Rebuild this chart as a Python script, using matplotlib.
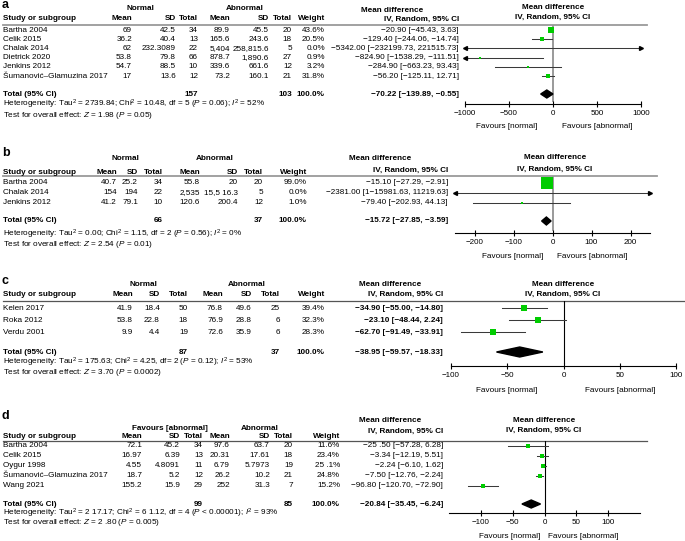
import matplotlib.pyplot as plt
from matplotlib.patches import Polygon
import numpy as np

plt.rcParams['font.family'] = ['Liberation Sans', 'DejaVu Sans']
plt.rcParams['mathtext.fontset'] = 'custom'
plt.rcParams['mathtext.rm'] = 'Liberation Sans'
plt.rcParams['mathtext.it'] = 'Liberation Sans:italic'
plt.rcParams['mathtext.bf'] = 'Liberation Sans:bold'

W, H = 685, 541
FS = 5.9
TFS = 5.8
GREEN = '#00cc00'

# ---------------- panel a ----------------
a_studies = ['Bartha 2004', 'Celik 2015', 'Chalak 2014', 'Dietrick 2020', 'Jenkins 2012', 'Šumanović–Glamuzina 2017']
a_norm_mean = ['69', '36.2', '62', '53.8', '54.7', '17']
a_norm_sd = ['42.5', '40.4', '232.3089', '79.8', '88.5', '13.6']
a_norm_n = ['34', '13', '22', '66', '10', '12']
a_abn_mean = ['89.9', '165.6', '5,404', '878.7', '339.6', '73.2']
a_abn_sd = ['45.5', '243.6', '258,815.6', '1,890.6', '661.6', '160.1']
a_abn_n = ['20', '18', '5', '27', '12', '21']
a_weight = ['43.6%', '20.5%', '0.0%', '0.9%', '3.2%', '31.8%']
a_md = [-20.90, -129.40, -5342.00, -824.90, -284.90, -56.20]
a_lo = [-45.43, -244.06, -232199.73, -1538.29, -663.23, -125.11]
a_hi = [3.63, -14.74, 221515.73, -111.51, 93.43, 12.71]
a_ci = ['−20.90 [−45.43, 3.63]', '−129.40 [−244.06, −14.74]', '−5342.00 [−232199.73, 221515.73]',
        '−824.90 [−1538.29, −111.51]', '−284.90 [−663.23, 93.43]', '−56.20 [−125.11, 12.71]']
a_tot_n = ['157', '103']
a_tot = [-70.22, -139.89, -0.55]
a_tot_ci = '−70.22 [−139.89, −0.55]'
a_het = r'Heterogeneity: Tau$^2$ = 2739.84; Chi$^2$ = 10.48, df = 5 ($P$ = 0.06); $I^2$ = 52%'
a_test = r'Test for overall effect: $Z$ = 1.98 ($P$ = 0.05)'
a_groups = ['Normal', 'Abnormal']
a_ticks = [-1000, -500, 0, 500, 1000]

# ---------------- panel b ----------------
b_studies = ['Bartha 2004', 'Chalak 2014', 'Jenkins 2012']
b_norm_mean = ['40.7', '154', '41.2']
b_norm_sd = ['25.2', '194', '79.1']
b_norm_n = ['34', '22', '10']
b_abn_mean = ['55.8', '2,535', '120.6']
b_abn_sd = ['20', '15,5 16.3', '200.4']
b_abn_n = ['20', '5', '12']
b_weight = ['99.0%', '0.0%', '1.0%']
b_md = [-15.10, -2381.00, -79.40]
b_lo = [-27.29, -15981.63, -202.93]
b_hi = [-2.91, 11219.63, 44.13]
b_ci = ['−15.10 [−27.29, −2.91]', '−2381.00 [1−15981.63, 11219.63]', '−79.40 [−202.93, 44.13]']
b_tot_n = ['66', '37']
b_tot = [-15.72, -27.85, -3.59]
b_tot_ci = '−15.72 [−27.85, −3.59]'
b_het = r'Heterogeneity: Tau$^2$ = 0.00; Chi$^2$ = 1.15, df = 2 ($P$ = 0.56); $I^2$ = 0%'
b_test = r'Test for overall effect: $Z$ = 2.54 ($P$ = 0.01)'
b_groups = ['Normal', 'Abnormal']
b_ticks = [-200, -100, 0, 100, 200]

# ---------------- panel c ----------------
c_studies = ['Kelen 2017', 'Roka 2012', 'Verdu 2001']
c_norm_mean = ['41.9', '53.8', '9.9']
c_norm_sd = ['18.4', '22.8', '4.4']
c_norm_n = ['50', '18', '19']
c_abn_mean = ['76.8', '76.9', '72.6']
c_abn_sd = ['49.6', '28.8', '35.9']
c_abn_n = ['25', '6', '6']
c_weight = ['39.4%', '32.3%', '28.3%']
c_md = [-34.90, -23.10, -62.70]
c_lo = [-55.00, -48.44, -91.49]
c_hi = [-14.80, 2.24, -33.91]
c_ci = ['−34.90 [−55.00, −14.80]', '−23.10 [−48.44, 2.24]', '−62.70 [−91.49, −33.91]']
c_tot_n = ['87', '37']
c_tot = [-38.95, -59.57, -18.33]
c_tot_ci = '−38.95 [−59.57, −18.33]'
c_het = r'Heterogeneity: Tau$^2$ = 175.63; Chi$^2$ = 4.25, df= 2 ($P$ = 0.12); $I^2$ = 53%'
c_test = r'Test for overall effect: $Z$ = 3.70 ($P$ = 0.0002)'
c_groups = ['Normal', 'Abnormal']
c_ticks = [-100, -50, 0, 50, 100]

# ---------------- panel d ----------------
d_studies = ['Bartha 2004', 'Celik 2015', 'Oygur 1998', 'Šumanović–Glamuzina 2017', 'Wang 2021']
d_norm_mean = ['72.1', '16.97', '4.55', '18.7', '155.2']
d_norm_sd = ['45.2', '6.39', '4.8091', '5.2', '15.9']
d_norm_n = ['34', '13', '11', '12', '29']
d_abn_mean = ['97.6', '20.31', '6.79', '26.2', '252']
d_abn_sd = ['63.7', '17.61', '5.7973', '10.2', '31.3']
d_abn_n = ['20', '18', '19', '21', '7']
d_weight = ['11.6%', '23.4%', '25 .1%', '24.8%', '15.2%']
d_md = [-25.50, -3.34, -2.24, -7.50, -96.80]
d_lo = [-57.28, -12.19, -6.10, -12.76, -120.70]
d_hi = [6.28, 5.51, 1.62, -2.24, -72.90]
d_ci = ['−25 .50 [−57.28, 6.28]', '−3.34 [−12.19, 5.51]', '−2.24 [−6.10, 1.62]',
        '−7.50 [−12.76, −2.24]', '−96.80 [−120.70, −72.90]']
d_tot_n = ['99', '85']
d_tot = [-20.84, -35.45, -6.24]
d_tot_ci = '−20.84 [−35.45, −6.24]'
d_het = r'Heterogeneity: Tau$^2$ = 2 17.17; Chi$^2$ = 6 1.12, df = 4 ($P$ < 0.00001); $I^2$ = 93%'
d_test = r'Test for overall effect: $Z$ = 2 .80 ($P$ = 0.005)'
d_groups = ['Favours [abnormal]', 'Abnormal']
d_ticks = [-100, -50, 0, 50, 100]

fig = plt.figure(figsize=(W / 100, H / 100), dpi=100)
bg = fig.add_axes([0, 0, 1, 1])
bg.set_xlim(0, W)
bg.set_ylim(H, 0)
bg.axis('off')


def txt(x, y, s, ha='left', bold=False, size=FS):
    bg.text(x, y, s, ha=ha, va='center', fontsize=size,
            fontweight='bold' if bold else 'normal')


def panel(letter, studies, nm, nsd, nn, am, asd, an, weight, md, lo, hi, ci,
          tot_n, tot, tot_ci, het, test, groups, ticks, L):
    # table part
    txt(2, L['label_y'], letter, bold=True, size=9)
    txt(L['grp_x'][0], L['grp_y'], groups[0], ha='center', bold=True)
    txt(L['grp_x'][1], L['grp_y'], groups[1], ha='center', bold=True)
    txt(3, L['head_y'], 'Study or subgroup', bold=True)
    heads = ['Mean', 'SD', 'Total', 'Mean', 'SD', 'Total', 'Weight']
    for h, cx in zip(heads, L['cols']):
        txt(cx, L['head_y'], h, ha='right', bold=True)
    txt(L['md_x'], L['md_y'][0], 'Mean difference', ha='center', bold=True)
    txt(L['ci_x'], L['md_y'][1], 'IV, Random, 95% CI', ha='right', bold=True)
    txt(L['ph_x'], L['md_y'][0] - L['ph_dy'], 'Mean difference', ha='center', bold=True)
    txt(L['ph_x'], L['md_y'][1] - L['ph_dy'], 'IV, Random, 95% CI', ha='center', bold=True)
    bg.plot([3, L['line_x1']], [L['line_y'], L['line_y']], color=L['line_c'], lw=L['line_w'])

    rows = [L['row_y0'] + i * L['row_dy'] for i in range(len(studies))]
    for i, y in enumerate(rows):
        vals = [nm[i], nsd[i], nn[i], am[i], asd[i], an[i], weight[i]]
        txt(3, y, studies[i])
        for v, cx in zip(vals, L['cols']):
            txt(cx, y, v, ha='right')
        txt(L['ci_x'], y, ci[i], ha='right', bold=L['ci_bold'])
    txt(3, L['total_y'], 'Total (95% CI)', bold=True)
    txt(L['cols'][2], L['total_y'], tot_n[0], ha='right', bold=True)
    txt(L['cols'][5], L['total_y'], tot_n[1], ha='right', bold=True)
    txt(L['cols'][6], L['total_y'], '100.0%', ha='right', bold=True)
    txt(L['ci_x'], L['total_y'], tot_ci, ha='right', bold=True)
    txt(3, L['het_y'], het)
    txt(3, L['test_y'], test)
    txt(L['fav_x'][0], L['fav_y'], 'Favours [normal]', ha='center')
    txt(L['fav_x'][1], L['fav_y'], 'Favours [abnormal]', ha='center')

    # forest part
    x0, x1 = L['ax_x']
    ytop, ybot = L['line_y'], L['axis_y']
    ax = fig.add_axes([x0 / W, 1 - ybot / H, (x1 - x0) / W, (ybot - ytop) / H])
    ax.patch.set_alpha(0)
    xmin, xmax = L['xlim']
    ax.set_xlim(xmin, xmax)
    ax.set_ylim(ybot, ytop)
    for s in ['top', 'left', 'right']:
        ax.spines[s].set_visible(False)
    ax.spines['bottom'].set_linewidth(0.8)
    ax.set_yticks([])
    ax.set_xticks(ticks)
    ax.set_xticklabels([str(t).replace('-', '−') for t in ticks])
    ax.tick_params(axis='x', direction='inout', length=4.5, width=0.8, pad=1.8, labelsize=TFS)
    ax.plot([0, 0], [ytop, ybot - 3], color=L['zero_c'], lw=L['zero_w'], zorder=1)

    wv = np.array([float(w.replace(' ', '').rstrip('%')) for w in weight])
    for i, y in enumerate(rows):
        l, h = max(lo[i], xmin), min(hi[i], xmax)
        ax.plot([l, h], [y, y], color='#3a3a3a', lw=0.75, zorder=2)
        if lo[i] < xmin:
            ax.plot(xmin, y, marker='<', ms=2.8, color='black', clip_on=False, zorder=3)
        if hi[i] > xmax:
            ax.plot(xmax, y, marker='>', ms=2.8, color='black', clip_on=False, zorder=3)
        if wv[i] > 0:
            side = max(L['sq_max'] * np.sqrt(wv[i] / wv.max()), 1.2) * 0.72
            ax.scatter(md[i], y, marker='s', s=side ** 2, color=GREEN, lw=0, zorder=4)
    m, l, h = tot
    yt = L['total_y']
    dh = L['dia_h'] / 2
    ax.add_patch(Polygon([(l, yt), (m, yt - dh), (h, yt), (m, yt + dh)], closed=True,
                         color='black', zorder=4, clip_on=False))


lay_a = dict(label_y=5, grp_x=(140, 245), grp_y=8, head_y=19, line_y=24.5, line_x1=647,
             cols=[132, 176, 198, 230, 269, 292, 325], md_x=392, md_y=(10, 19.5), ci_x=459,
             ph_x=553, ph_dy=2.5, line_c='#9a9a9a', line_w=1.3,
             row_y0=30, row_dy=9.2, ci_bold=False, total_y=94, het_y=104.5, test_y=115.5,
             fav_x=(507, 597), fav_y=127, ax_x=(465, 641), axis_y=104, xlim=(-1000, 1000),
             zero_c='#9a9a9a', zero_w=1.4, sq_max=5.5, dia_h=8)
lay_b = dict(label_y=153, grp_x=(125, 215), grp_y=158, head_y=172, line_y=175.5, line_x1=657,
             cols=[117, 138, 163, 200, 238, 263, 307], md_x=380, md_y=(158, 170), ci_x=448,
             ph_x=555, ph_dy=0.5, line_c='#9a9a9a', line_w=1.3,
             row_y0=183, row_dy=9.8, ci_bold=False, total_y=221, het_y=234, test_y=245,
             fav_x=(513, 592), fav_y=256, ax_x=(455, 650), axis_y=233, xlim=(-250, 250),
             zero_c='#9a9a9a', zero_w=1.4, sq_max=12, dia_h=8)
lay_c = dict(label_y=281, grp_x=(143, 247), grp_y=284, head_y=295, line_y=300.5, line_x1=685,
             cols=[133, 160, 188, 223, 252, 280, 325], md_x=390, md_y=(284, 294), ci_x=443,
             ph_x=563, ph_dy=0, line_c='#555555', line_w=0.9,
             row_y0=308, row_dy=12, ci_bold=True, total_y=352, het_y=362, test_y=372.5,
             fav_x=(507, 620), fav_y=390, ax_x=(451, 676), axis_y=366, xlim=(-100, 100),
             zero_c='black', zero_w=0.8, sq_max=6, dia_h=10)
lay_d = dict(label_y=416, grp_x=(170, 260), grp_y=429, head_y=437, line_y=441, line_x1=647,
             cols=[142, 180, 203, 230, 270, 293, 340], md_x=390, md_y=(421, 431), ci_x=443,
             ph_x=544, ph_dy=1, line_c='#555555', line_w=0.9,
             row_y0=445.5, row_dy=10, ci_bold=False, total_y=504, het_y=513.5, test_y=523,
             fav_x=(510, 583), fav_y=536, ax_x=(449, 640), axis_y=513, xlim=(-150, 150),
             zero_c='black', zero_w=0.8, sq_max=4.5, dia_h=8)

panel('a', a_studies, a_norm_mean, a_norm_sd, a_norm_n, a_abn_mean, a_abn_sd, a_abn_n,
      a_weight, a_md, a_lo, a_hi, a_ci, a_tot_n, a_tot, a_tot_ci, a_het, a_test, a_groups, a_ticks, lay_a)
panel('b', b_studies, b_norm_mean, b_norm_sd, b_norm_n, b_abn_mean, b_abn_sd, b_abn_n,
      b_weight, b_md, b_lo, b_hi, b_ci, b_tot_n, b_tot, b_tot_ci, b_het, b_test, b_groups, b_ticks, lay_b)
panel('c', c_studies, c_norm_mean, c_norm_sd, c_norm_n, c_abn_mean, c_abn_sd, c_abn_n,
      c_weight, c_md, c_lo, c_hi, c_ci, c_tot_n, c_tot, c_tot_ci, c_het, c_test, c_groups, c_ticks, lay_c)
panel('d', d_studies, d_norm_mean, d_norm_sd, d_norm_n, d_abn_mean, d_abn_sd, d_abn_n,
      d_weight, d_md, d_lo, d_hi, d_ci, d_tot_n, d_tot, d_tot_ci, d_het, d_test, d_groups, d_ticks, lay_d)

fig.savefig('out.png', dpi=100)
